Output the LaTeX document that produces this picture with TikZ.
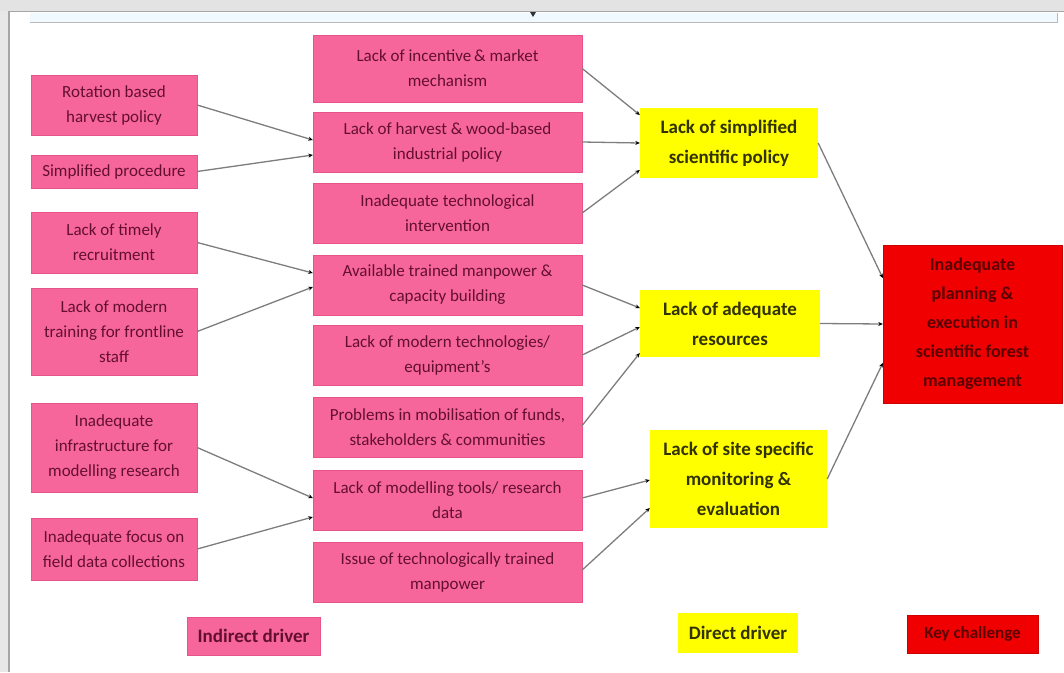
\documentclass[tikz,border=0pt]{standalone}
\usepackage{fontspec}
\setmainfont{Carlito}
\usetikzlibrary{arrows.meta}
\definecolor{drvpink}{RGB}{246,102,154}
\definecolor{pinkedge}{RGB}{232,84,138}
\definecolor{pinktext}{RGB}{100,15,48}
\definecolor{drvyellow}{RGB}{255,255,0}
\definecolor{yellowtext}{RGB}{50,50,0}
\definecolor{keyred}{RGB}{240,0,0}
\definecolor{redtext}{RGB}{90,0,0}
\definecolor{linkgray}{RGB}{125,125,125}
\begin{document}
\begin{tikzpicture}[x=1pt, y=-1pt,
	indirect/.style={draw=pinkedge, fill=drvpink, text=pinktext, align=center, inner sep=2pt, font=\fontsize{17}{25}\selectfont},
	direct/.style={fill=drvyellow, text=yellowtext, align=center, inner sep=2pt, font=\bfseries\fontsize{19}{30}\selectfont},
	keych/.style={draw=red!80!black, fill=keyred, text=redtext, align=center, inner sep=2pt, font=\bfseries\fontsize{18}{29}\selectfont},
	link/.style={-{Stealth[length=4.5pt,width=4pt,color=black]}, draw=linkgray, line width=1.3pt}]
	\useasboundingbox (0,0) rectangle (1064,672);
	% 1. window frame
	\fill[gray!22] (0,0) rectangle (1064,11);
	\fill[gray!18] (0,11) rectangle (9,672);
	\draw[gray!70, line width=1.5pt] (9,672) -- (9,11.5) -- (1064,11.5);
	\fill[cyan!6] (30,12.5) rectangle (1057,22);
	\draw[gray!55, line width=1pt] (30,22) -- (1057,22) -- (1057,12.5);
	\fill[black!80] (530,12) -- (536,12) -- (533,17) -- cycle;

	% 2. indirect drivers, left column
	\node[indirect, minimum width=166pt, minimum height=60pt] (rot) at (114,105) {Rotation based\\harvest policy};
	\node[indirect, minimum width=166pt, minimum height=33pt] (simp) at (114,171.5) {Simplified procedure};
	\node[indirect, minimum width=166pt, minimum height=61pt] (recr) at (114,242.5) {Lack of timely\\recruitment};
	\node[indirect, minimum width=166pt, minimum height=87pt] (train) at (114,331.5) {Lack of modern\\training for frontline\\staff};
	\node[indirect, minimum width=166pt, minimum height=89pt] (infra) at (114,447.5) {Inadequate\\infrastructure for\\modelling research};
	\node[indirect, minimum width=166pt, minimum height=62pt] (field) at (114,549) {Inadequate focus on\\field data collections};

	% 3. indirect drivers, middle column
	\node[indirect, minimum width=269pt, minimum height=67pt] (incent) at (447.5,68.5) {Lack of incentive\,\& market\\mechanism};
	\node[indirect, minimum width=269pt, minimum height=60pt] (harv) at (447.5,142) {Lack of harvest \& wood-based\\industrial policy};
	\node[indirect, minimum width=269pt, minimum height=60pt] (tech) at (447.5,213) {Inadequate technological\\intervention};
	\node[indirect, minimum width=269pt, minimum height=60pt] (avail) at (447.5,285) {Available trained manpower \&\\capacity building};
	\node[indirect, minimum width=269pt, minimum height=60pt] (equip) at (447.5,355) {Lack of modern technologies/\\equipment's};
	\node[indirect, minimum width=269pt, minimum height=60pt] (funds) at (447.5,427.5) {Problems in mobilisation of funds,\\stakeholders \& communities};
	\node[indirect, minimum width=269pt, minimum height=60pt] (tools) at (447.5,500) {Lack of modelling tools/ research\\data};
	\node[indirect, minimum width=269pt, minimum height=60pt] (issue) at (447.5,572) {Issue of technologically trained\\manpower};

	% 4. direct drivers and key challenge
	\node[direct, minimum width=178pt, minimum height=70pt] (policy) at (729,143) {Lack of simplified\\scientific policy};
	\node[direct, minimum width=180pt, minimum height=67pt] (resrc) at (730,323.5) {Lack of adequate\\resources};
	\node[direct, minimum width=177pt, minimum height=98pt] (monit) at (738.5,479) {Lack of site specific\\monitoring \&\\evaluation};
	\node[keych, minimum width=179pt, minimum height=158pt] (plan) at (972.5,324) {Inadequate\\planning \&\\execution in\\scientific forest\\management};

	% 5. legend
	\node[indirect, font=\bfseries\fontsize{19}{23}\selectfont, minimum width=133pt, minimum height=38pt] (legind) at (253.5,636) {Indirect driver};
	\node[direct, minimum width=120pt, minimum height=40pt] (legdir) at (738,633) {Direct driver};
	\node[keych, font=\bfseries\fontsize{17}{22}\selectfont, minimum width=131pt, minimum height=38pt] (legkey) at (972.5,634) {Key challenge};

	% 6. links
	\draw[link] (rot.east) -- ([yshift=2pt]harv.west);
	\draw[link] (simp.east) -- ([yshift=-13pt]harv.west);
	\draw[link] (recr.east) -- ([yshift=12pt]avail.west);
	\draw[link] (train.east) -- ([yshift=-2pt]avail.west);
	\draw[link] (infra.east) -- ([yshift=2pt]tools.west);
	\draw[link] (field.east) -- ([yshift=-17pt]tools.west);
	\draw[link] (incent.east) -- ([yshift=28pt]policy.west);
	\draw[link] (harv.east) -- (policy.west);
	\draw[link] (tech.east) -- ([yshift=-27pt]policy.west);
	\draw[link] (avail.east) -- ([yshift=15.5pt]resrc.west);
	\draw[link] (equip.east) -- ([yshift=-3.5pt]resrc.west);
	\draw[link] ([yshift=2pt]funds.east) -- ([yshift=-29.5pt]resrc.west);
	\draw[link] ([yshift=2pt]tools.east) -- ([yshift=-1pt]monit.west);
	\draw[link] ([yshift=2pt]issue.east) -- ([yshift=-29pt]monit.west);
	\draw[link] (policy.east) -- ([yshift=46pt]plan.west);
	\draw[link] (resrc.east) -- (plan.west);
	\draw[link] (monit.east) -- ([yshift=-39pt]plan.west);
\end{tikzpicture}
\end{document}
